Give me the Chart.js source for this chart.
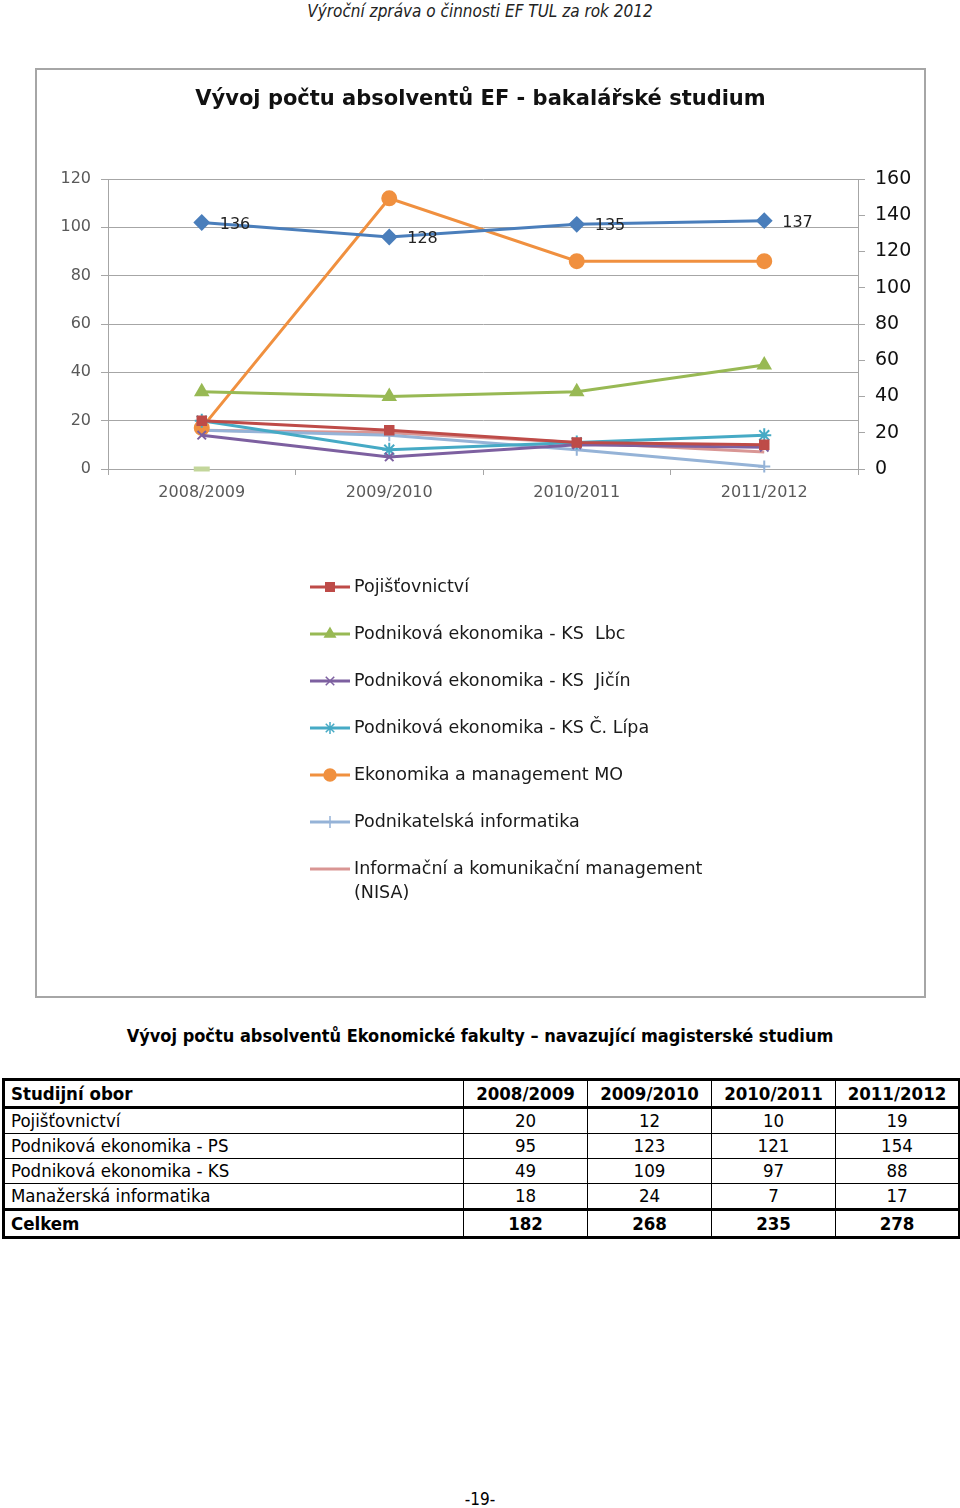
<!DOCTYPE html>
<html lang="cs">
<head>
    <meta charset="UTF-8">
    <title>Vývoj počtu absolventů EF</title>
    <script src="https://cdn.jsdelivr.net/npm/chart.js"></script>
    <style>
        body {
            margin: 0;
            width: 960px;
            height: 1508px;
            position: relative;
            background: #fff;
            font-family: "DejaVu Sans Condensed", "Liberation Sans Narrow", "Liberation Sans", sans-serif;
        }

        .page_head {
            position: absolute;
            top: 0px;
            left: 0px;
            width: 960px;
            text-align: center;
            font-style: italic;
            font-size: 17px;
            color: #222;
            line-height: 22px;
        }

        .chart_box {
            position: absolute;
            left: 35px;
            top: 68px;
            width: 891px;
            height: 930px;
            box-sizing: border-box;
            border: 2px solid #a6a6a6;
        }

        .sub_title {
            position: absolute;
            top: 1024px;
            left: 0px;
            width: 960px;
            text-align: center;
            font-weight: bold;
            font-size: 18px;
            line-height: 24px;
        }

        table {
            position: absolute;
            left: 2px;
            top: 1078px;
            width: 954px;
            table-layout: fixed;
            border-collapse: collapse;
            font-size: 18.5px;
            border: 3px solid #000;
        }

        td {
            border: 1px solid #000;
            padding: 0px 6px;
            height: 24px;
            line-height: 22px;
            text-align: center;
            white-space: nowrap;
        }

        td:first-child {
            text-align: left;
        }

        .thick td {
            font-weight: bold;
            border-top: 3px solid #000;
            border-bottom: 3px solid #000;
            height: 25px;
        }

        .page_num {
            position: absolute;
            top: 1489px;
            left: 0px;
            width: 960px;
            text-align: center;
            font-size: 17px;
        }
    </style>
</head>

<body>
    <div class="page_head">Výroční zpráva o činnosti EF TUL za rok 2012</div>

    <div class="chart_box">
        <canvas id="myChart"></canvas>
    </div>

    <div class="sub_title">Vývoj počtu absolventů Ekonomické fakulty – navazující magisterské studium</div>

    <table id="tbl">
        <colgroup>
            <col style="width: 460px">
            <col style="width: 124px">
            <col style="width: 124px">
            <col style="width: 124px">
            <col style="width: 124px">
        </colgroup>
        <tbody id="tbody"></tbody>
    </table>

    <div class="page_num">-19-</div>

    <script>
        // data - graf
        const years = ['2008/2009', '2009/2010', '2010/2011', '2011/2012'];
        const psBlue = [136, 128, 135, 137]; // prava osa
        const pojistovnictvi = [20, 16, 11, 10];
        const ksLbc = [32, 30, 32, 43];
        const ksJicin = [14, 5, 10, 9];
        const ksLipa = [20, 8, 11, 14];
        const emMO = [17, 112, 86, 86];
        const podnInf = [16, 14, 8, 1];
        const nisa = [16, 15, 11, 7];
        const zeroMark = [0, null, null, null];
        const leftTicks = [0, 20, 40, 60, 80, 100, 120];
        const rightTicks = [0, 20, 40, 60, 80, 100, 120, 140, 160];

        // data - tabulka
        const tblHead = ['Studijní obor', '2008/2009', '2009/2010', '2010/2011', '2011/2012'];
        const tblObory = ['Pojišťovnictví', 'Podniková ekonomika - PS', 'Podniková ekonomika - KS', 'Manažerská informatika'];
        const tblValues = [
            [20, 12, 10, 19],
            [95, 123, 121, 154],
            [49, 109, 97, 88],
            [18, 24, 7, 17]
        ];
        const tblTotal = [182, 268, 235, 278];

        // tabulka
        var html = '<tr class="thick">' + tblHead.map(function (h) { return '<td>' + h + '</td>'; }).join('') + '</tr>';
        tblObory.forEach(function (o, i) {
            html += '<tr><td>' + o + '</td>' + tblValues[i].map(function (v) { return '<td>' + v + '</td>'; }).join('') + '</tr>';
        });
        html += '<tr class="thick"><td>Celkem</td>' + tblTotal.map(function (v) { return '<td>' + v + '</td>'; }).join('') + '</tr>';
        document.getElementById('tbody').innerHTML = html;

        const FONT = '"DejaVu Sans", sans-serif';

        function ds(label, data, color, style, radius, axis) {
            return {
                label: label,
                data: data,
                borderColor: color,
                backgroundColor: color,
                pointBackgroundColor: color,
                pointBorderColor: color,
                pointStyle: style,
                pointRadius: radius,
                pointBorderWidth: 2,
                borderWidth: 3,
                yAxisID: axis || 'y',
                clip: false,
                tension: 0
            };
        }

        var datasets = [
            ds('Podniková ekonomika - PS', psBlue, '#4a7ebb', 'rectRot', 7, 'y1'),
            ds('Pojišťovnictví', pojistovnictvi, '#be4b48', 'rect', 6),
            ds('Podniková ekonomika - KS  Lbc', ksLbc, '#98b954', 'triangle', 7),
            ds('Podniková ekonomika - KS  Jičín', ksJicin, '#7d60a0', 'crossRot', 6),
            ds('Podniková ekonomika - KS Č. Lípa', ksLipa, '#46aac5', 'star', 7),
            ds('Ekonomika a management MO', emMO, '#f0903f', 'circle', 7),
            ds('Podnikatelská informatika', podnInf, '#95b3d7', 'cross', 6),
            ds('Informační a komunikační management (NISA)', nisa, '#d99694', false, 0),
            ds('', zeroMark, '#c3d69b', 'line', 8)
        ];
        datasets[0].noLegend = true;
        datasets[0].valueLabels = true;
        datasets[8].noLegend = true;
        datasets[8].pointBorderWidth = 5;

        // titulek grafu
        const titlePlugin = {
            id: 'myTitle',
            afterDraw: function (chart) {
                var c = chart.ctx;
                c.save();
                c.font = 'bold 21px ' + FONT;
                c.fillStyle = '#111';
                c.textAlign = 'center';
                c.textBaseline = 'middle';
                c.fillText('Vývoj počtu absolventů EF - bakalářské studium', chart.width / 2, 30);
                c.restore();
            }
        };

        // popisky hodnot u modre rady
        const valuePlugin = {
            id: 'valueLabels',
            afterDatasetsDraw: function (chart) {
                var c = chart.ctx;
                c.save();
                c.font = '16px ' + FONT;
                c.fillStyle = '#222';
                c.textBaseline = 'middle';
                chart.data.datasets.forEach(function (d, i) {
                    if (!d.valueLabels) return;
                    chart.getDatasetMeta(i).data.forEach(function (pt, j) {
                        c.fillText(d.data[j], pt.x + 18, pt.y + 2);
                    });
                });
                c.restore();
            }
        };

        // legenda pod grafem (svisla, se zalamovanim)
        const legendPlugin = {
            id: 'myLegend',
            afterDraw: function (chart) {
                var c = chart.ctx;
                var x0 = 273, x1 = 313, tx = 317;
                var y = 517;
                c.save();
                c.font = '17.5px ' + FONT;
                c.textBaseline = 'middle';
                chart.data.datasets.forEach(function (d) {
                    if (d.noLegend) return;
                    c.strokeStyle = d.borderColor;
                    c.lineWidth = 3;
                    c.beginPath();
                    c.moveTo(x0, y);
                    c.lineTo(x1, y);
                    c.stroke();
                    if (d.pointStyle) {
                        c.fillStyle = d.borderColor;
                        c.lineWidth = 1.5;
                        Chart.helpers.drawPoint(c, { pointStyle: d.pointStyle, radius: 6, borderWidth: 1.5, rotation: 0 }, (x0 + x1) / 2, y);
                    }
                    // zalomeni textu
                    var words = d.label.split(' ');
                    var lines = [], line = '';
                    words.forEach(function (w) {
                        var t = line === '' ? w : line + ' ' + w;
                        if (c.measureText(t).width > 380 && line !== '') {
                            lines.push(line);
                            line = w;
                        } else {
                            line = t;
                        }
                    });
                    lines.push(line);
                    c.fillStyle = '#1a1a1a';
                    lines.forEach(function (l, k) {
                        c.fillText(l, tx, y + k * 24);
                    });
                    y += 47;
                });
                c.restore();
            }
        };

        const ctx = document.getElementById('myChart');
        const myChart = new Chart(ctx, {
            type: 'line',
            data: {
                labels: years,
                datasets: datasets
            },
            options: {
                responsive: true,
                maintainAspectRatio: false,
                animation: false,
                layout: {
                    padding: { top: 109, bottom: 487, left: 0, right: 0 }
                },
                plugins: {
                    legend: { display: false },
                    title: { display: false },
                    tooltip: { enabled: false }
                },
                scales: {
                    x: {
                        offset: true,
                        grid: { offset: true, drawOnChartArea: false, tickLength: 6, color: '#a6a6a6' },
                        border: { color: '#a6a6a6' },
                        ticks: { color: '#595959', font: { size: 16, family: FONT }, padding: 8 },
                        afterFit: function (s) { s.height = 40; }
                    },
                    y: {
                        position: 'left',
                        min: 0,
                        max: 120,
                        afterBuildTicks: function (s) { s.ticks = leftTicks.map(function (v) { return { value: v }; }); },
                        grid: { color: '#a6a6a6', tickLength: 7 },
                        border: { color: '#a6a6a6' },
                        ticks: { color: '#595959', font: { size: 16, family: FONT }, padding: 10 },
                        afterFit: function (s) { s.width = 71; }
                    },
                    y1: {
                        position: 'right',
                        min: 0,
                        max: 160,
                        afterBuildTicks: function (s) { s.ticks = rightTicks.map(function (v) { return { value: v }; }); },
                        grid: { drawOnChartArea: false, color: '#a6a6a6', tickLength: 7 },
                        border: { color: '#a6a6a6' },
                        ticks: { color: '#111', font: { size: 19, family: FONT }, padding: 10 },
                        afterFit: function (s) { s.width = 66; }
                    }
                }
            },
            plugins: [titlePlugin, valuePlugin, legendPlugin]
        });
    </script>
</body>

</html>
